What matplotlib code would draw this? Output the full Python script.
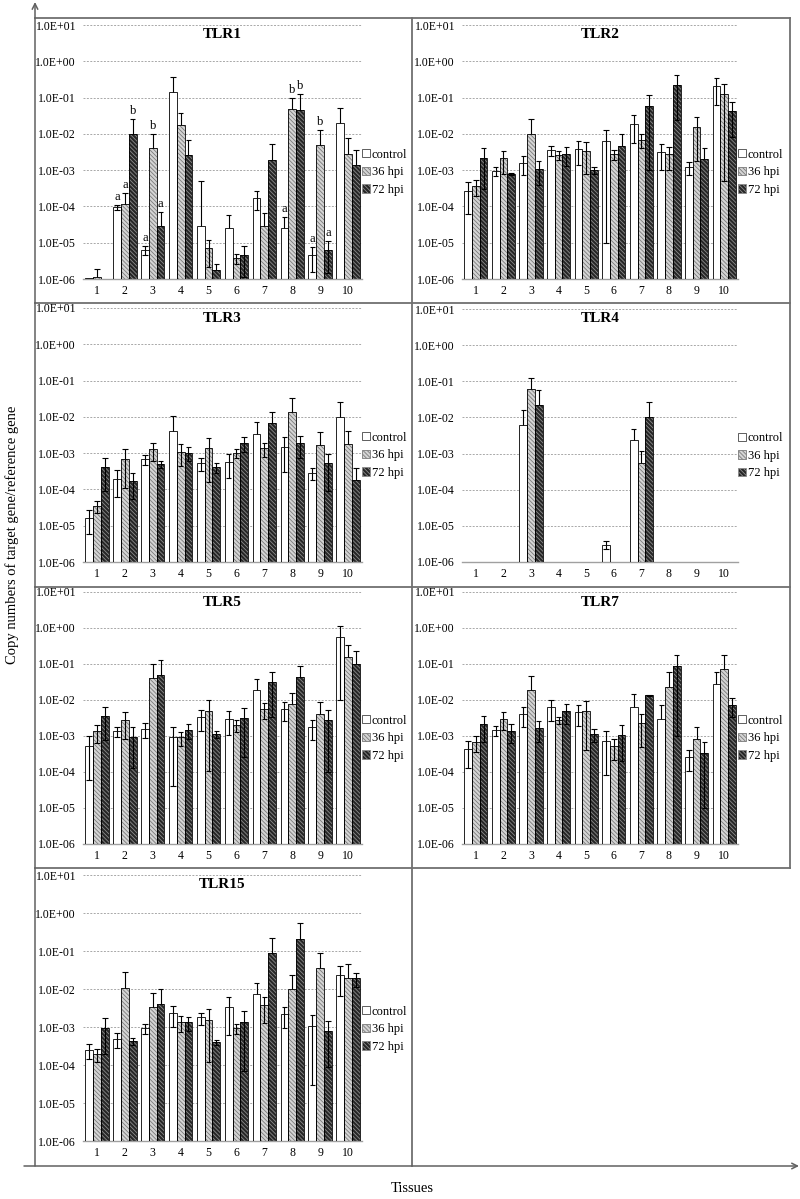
import numpy as np
import matplotlib
matplotlib.use('Agg')
import matplotlib.pyplot as plt
from matplotlib.patches import Patch

plt.rcParams['font.family'] = ['Liberation Serif', 'DejaVu Serif']
plt.rcParams['hatch.linewidth'] = 0.6

# ---------------- data ----------------
tissues = [str(i) for i in range(1, 11)]
series_labels = ['control', '36 hpi', '72 hpi']
ytick_values = [1e-6, 1e-5, 1e-4, 1e-3, 1e-2, 1e-1, 1e0, 1e1]
ytick_labels = ['1.0E-06', '1.0E-05', '1.0E-04', '1.0E-03', '1.0E-02',
                '1.0E-01', '1.0E+00', '1.0E+01']

tlr1_ctrl = [1.05e-6, 9.6e-5, 6.2e-6, 0.143, 2.8e-5, 2.5e-5, 1.7e-4, 2.5e-5, 4.6e-6, 0.0197]
tlr1_ctrl_sd = [0, 1.4e-5, 1.7e-6, 0.237, 4.6e-4, 3.4e-5, 9e-5, 2.6e-5, 3e-6, 0.031]
tlr1_36 = [1.1e-6, 1.15e-4, 4.0e-3, 0.0177, 7.1e-6, 3.8e-6, 2.8e-5, 0.048, 4.8e-3, 2.8e-3]
tlr1_36_sd = [0.8e-6, 1.15e-4, 5.8e-3, 0.019, 4.9e-6, 1.2e-6, 3.8e-5, 0.048, 8.1e-3, 4.8e-3]
tlr1_72 = [0, 9.8e-3, 2.8e-5, 2.6e-3, 1.8e-6, 4.7e-6, 1.9e-3, 0.046, 6.2e-6, 1.4e-3]
tlr1_72_sd = [0, 0.0162, 4.2e-5, 4.2e-3, 0.8e-6, 3.6e-6, 3.4e-3, 0.078, 4.7e-6, 2.1e-3]
tlr1_letters = [(2, 0, 'a'), (2, 1, 'a'), (2, 2, 'b'), (3, 0, 'a'), (3, 1, 'b'), (3, 2, 'a'),
                (8, 0, 'a'), (8, 1, 'b'), (8, 2, 'b'), (9, 0, 'a'), (9, 1, 'b'), (9, 2, 'a')]

tlr2_ctrl = [2.65e-4, 9.5e-4, 1.57e-3, 3.5e-3, 3.9e-3, 6.3e-3, 0.0192, 3.2e-3, 1.22e-3, 0.207]
tlr2_ctrl_sd = [2.05e-4, 2.7e-4, 8.3e-4, 1.0e-3, 2.5e-3, 6.29e-3, 0.0135, 2.2e-3, 4.8e-4, 0.143]
tlr2_36 = [3.6e-4, 2.1e-3, 0.0102, 2.6e-3, 3.4e-3, 2.7e-3, 6.9e-3, 2.7e-3, 0.0156, 0.122]
tlr2_36_sd = [1.6e-4, 1.3e-3, 0.0151, 0.7e-3, 2.6e-3, 0.8e-3, 2.9e-3, 1.7e-3, 0.0138, 0.1215]
tlr2_72 = [2.2e-3, 8e-4, 1.1e-3, 2.85e-3, 9.9e-4, 4.6e-3, 0.058, 0.22, 2.05e-3, 0.042]
tlr2_72_sd = [1.9e-3, 0.5e-4, 0.7e-3, 1.55e-3, 2.1e-4, 5.6e-3, 0.057, 0.196, 2.05e-3, 0.034]

tlr3_ctrl = [1.65e-5, 2.0e-4, 6.7e-4, 4.2e-3, 5.2e-4, 5.8e-4, 3.4e-3, 1.5e-3, 2.8e-4, 9.75e-3]
tlr3_ctrl_sd = [1.05e-5, 1.4e-4, 2.1e-4, 6.6e-3, 2.0e-4, 3.7e-4, 3.7e-3, 1.2e-3, 1.0e-4, 0.0167]
tlr3_36 = [3.5e-5, 6.9e-4, 1.27e-3, 1.1e-3, 1.36e-3, 1.0e-3, 1.36e-3, 0.014, 1.68e-3, 1.75e-3]
tlr3_36_sd = [1.3e-5, 5.8e-4, 6.8e-4, 6.5e-4, 1.2e-3, 2.7e-4, 5.9e-4, 0.0187, 2.2e-3, 2.45e-3]
tlr3_72 = [4.05e-4, 1.73e-4, 5e-4, 1.03e-3, 4.05e-4, 1.95e-3, 6.65e-3, 1.87e-3, 5.2e-4, 1.8e-4]
tlr3_72_sd = [3.15e-4, 1.17e-4, 1.2e-4, 4.2e-4, 1.15e-4, 9e-4, 6.75e-3, 1.13e-3, 4.3e-4, 2.2e-4]

tlr4_ctrl = [0, 0, 6e-3, 0, 0, 3.0e-6, 2.3e-3, 0, 0, 0]
tlr4_ctrl_sd = [0, 0, 9.6e-3, 0, 0, 0.7e-6, 2.4e-3, 0, 0, 0]
tlr4_36 = [0, 0, 0.06, 0, 0, 0, 5.5e-4, 0, 0, 0]
tlr4_36_sd = [0, 0, 0.062, 0, 0, 0, 6e-4, 0, 0, 0]
tlr4_72 = [0, 0, 0.0214, 0, 0, 0, 0.0102, 0, 0, 0]
tlr4_72_sd = [0, 0, 0.0366, 0, 0, 0, 0.0173, 0, 0, 0]

tlr5_ctrl = [5.2e-4, 1.35e-3, 1.6e-3, 9.2e-4, 3.3e-3, 2.97e-3, 0.0194, 5.7e-3, 1.74e-3, 0.56]
tlr5_ctrl_sd = [4.6e-4, 3.9e-4, 7e-4, 8.8e-4, 1.9e-3, 1.87e-3, 0.0196, 3.1e-3, 0.96e-3, 0.55]
tlr5_36 = [1.35e-3, 2.7e-3, 0.041, 9.2e-4, 5.06e-3, 1.98e-3, 5.6e-3, 7.7e-3, 4.1e-3, 0.153]
tlr5_36_sd = [7.2e-4, 1.9e-3, 0.059, 3.8e-4, 4.95e-3, 7.2e-4, 2.7e-3, 7.9e-3, 4.5e-3, 0.177]
tlr5_72 = [3.5e-3, 9.6e-4, 0.0506, 1.5e-3, 1.16e-3, 3.16e-3, 0.031, 0.0427, 2.7e-3, 0.102]
tlr5_72_sd = [2.75e-3, 8.3e-4, 0.081, 6.5e-4, 2.6e-4, 2.9e-3, 0.0277, 0.0433, 2.6e-3, 0.123]

tlr7_ctrl = [4.35e-4, 1.44e-3, 4.1e-3, 6.4e-3, 4.65e-3, 7.1e-4, 6.4e-3, 3.03e-3, 2.55e-4, 0.0278]
tlr7_ctrl_sd = [3.05e-4, 4.2e-4, 2.3e-3, 3.8e-3, 2.75e-3, 6.3e-4, 8.3e-3, 4.07e-3, 1.45e-4, 0.031]
tlr7_36 = [6.7e-4, 2.97e-3, 0.0194, 2.72e-3, 5e-3, 5.2e-4, 2.3e-3, 0.023, 8.3e-4, 0.0726]
tlr7_36_sd = [3.1e-4, 1.53e-3, 0.028, 5.8e-4, 4.6e-3, 3.1e-4, 1.8e-3, 0.0357, 9.1e-4, 0.107]
tlr7_72 = [2.15e-3, 1.4e-3, 1.67e-3, 5.06e-3, 1.14e-3, 1.09e-3, 0.0135, 0.09, 3.4e-4, 7.4e-3]
tlr7_72_sd = [1.45e-3, 7.5e-4, 1.0e-3, 2.84e-3, 4.6e-4, 8.9e-4, 5e-4, 0.089, 3.3e-4, 4e-3]

tlr15_ctrl = [2.54e-4, 4.83e-4, 9.2e-4, 2.3e-3, 1.78e-3, 3.46e-3, 7.3e-3, 2.18e-3, 1.08e-3, 0.0233]
tlr15_ctrl_sd = [1.06e-4, 2.07e-4, 2.7e-4, 1.3e-3, 6.2e-4, 2.84e-3, 7.4e-3, 1.22e-3, 1.05e-3, 0.0167]
tlr15_36 = [1.92e-4, 0.0109, 3.46e-3, 1.32e-3, 1.52e-3, 9.4e-4, 3.8e-3, 9.8e-3, 0.0362, 0.0198]
tlr15_36_sd = [7.3e-5, 0.017, 4.54e-3, 5.7e-4, 1.4e-3, 2.9e-4, 2.5e-3, 0.0135, 0.053, 0.0245]
tlr15_72 = [9.4e-4, 4.2e-4, 4.14e-3, 1.32e-3, 3.95e-4, 1.37e-3, 0.089, 0.212, 7.7e-4, 0.019]
tlr15_72_sd = [7.4e-4, 0.9e-4, 6.06e-3, 5.3e-4, 0.65e-4, 1.3e-3, 0.131, 0.333, 6.8e-4, 7.8e-3]

# ---------------- layout (pixels) ----------------
W, H = 800, 1199
fig = plt.figure(figsize=(W / 100, H / 100), dpi=100)

def px_axes(x0, x1, ytop, ybot):
    return fig.add_axes([x0 / W, 1 - ybot / H, (x1 - x0) / W, (ybot - ytop) / H])

BASE = 1e-6
bar_w = 0.28
faces = ['white', '#d4d4d4', '#262626']
hatch_cols = [None, '#7a7a7a', '#8c8c8c']
HATCH = '\\\\\\\\\\\\\\\\'


def draw_panel(ax, title, means, sds, letters=None):
    x = np.arange(1, 11)
    ax.set_yscale('log')
    for k in range(3):
        xs = x + (k - 1) * bar_w
        m = np.array(means[k], dtype=float)
        s = np.array(sds[k], dtype=float)
        mask = m > BASE
        h = m[mask] - BASE
        ax.bar(xs[mask], h, bottom=BASE, width=bar_w, color=faces[k],
               edgecolor='none', linewidth=0, zorder=2)
        if hatch_cols[k] is not None:
            ax.bar(xs[mask], h, bottom=BASE, width=bar_w, facecolor='none',
                   edgecolor=hatch_cols[k], hatch=HATCH, linewidth=0, zorder=3)
        ax.bar(xs[mask], h, bottom=BASE, width=bar_w, facecolor='none',
               edgecolor='black', linewidth=0.6, zorder=4)
        em = mask & (s > 0)
        cw = 0.1
        up = m[em] + s[em]
        ax.vlines(xs[em], m[em], up, color='black', lw=0.8, zorder=5)
        ax.hlines(up, xs[em] - cw, xs[em] + cw, color='black', lw=0.8, zorder=5)
        lm = em & (m - s > BASE)
        lo = m[lm] - s[lm]
        ax.vlines(xs[lm], lo, m[lm], color='black', lw=0.8, zorder=5)
        ax.hlines(lo, xs[lm] - cw, xs[lm] + cw, color='black', lw=0.8, zorder=5)
    if letters:
        for t, k, letter in letters:
            i = t - 1
            xv = x[i] + (k - 1) * bar_w
            top = means[k][i] + sds[k][i]
            ax.annotate(letter, (xv, top), xytext=(0, 1.5), textcoords='offset points',
                        ha='center', va='bottom', fontsize=9, zorder=6)
    ax.set_xlim(0.5, 10.5)
    ax.set_ylim(1e-6, 1e1)
    ax.set_xticks(x)
    ax.set_xticklabels(tissues)
    ax.set_yticks(ytick_values)
    ax.set_yticklabels(ytick_labels)
    ax.yaxis.set_minor_locator(matplotlib.ticker.NullLocator())
    ax.tick_params(axis='both', length=0, labelsize=8.5)
    ax.tick_params(axis='x', pad=4)
    ax.tick_params(axis='y', pad=5)
    for sp in ['top', 'right', 'left']:
        ax.spines[sp].set_visible(False)
    ax.spines['bottom'].set_color('#a0a0a0')
    ax.spines['bottom'].set_linewidth(1.0)
    for v in ytick_values[1:]:
        ax.axhline(v, color='#a8a8a8', lw=0.7, ls=(0, (2, 1.5)), zorder=1)
    ax.patch.set_alpha(0)
    hh = ax.get_position().height * H
    ax.text(0.5, 1 - 10 / hh, title, transform=ax.transAxes, ha='center', va='center',
            fontsize=11, fontweight='bold', zorder=6)
    handles = [Patch(facecolor=faces[0], edgecolor='#444444', linewidth=0.6),
               Patch(facecolor=faces[1], edgecolor=hatch_cols[1], hatch=HATCH, linewidth=0.6),
               Patch(facecolor=faces[2], edgecolor=hatch_cols[2], hatch=HATCH, linewidth=0.6)]
    ax.legend(handles, series_labels, loc='center left', bbox_to_anchor=(1.0, 0.42),
              frameon=False, fontsize=9, handlelength=0.65, handleheight=0.65,
              handletextpad=0.15, labelspacing=0.45, borderaxespad=0, borderpad=0)


panels = [
    ('TLR1', (83, 362, 25, 279), [tlr1_ctrl, tlr1_36, tlr1_72], [tlr1_ctrl_sd, tlr1_36_sd, tlr1_72_sd], tlr1_letters),
    ('TLR2', (462, 738, 25, 279), [tlr2_ctrl, tlr2_36, tlr2_72], [tlr2_ctrl_sd, tlr2_36_sd, tlr2_72_sd], None),
    ('TLR3', (83, 362, 308, 562), [tlr3_ctrl, tlr3_36, tlr3_72], [tlr3_ctrl_sd, tlr3_36_sd, tlr3_72_sd], None),
    ('TLR4', (462, 738, 309, 562), [tlr4_ctrl, tlr4_36, tlr4_72], [tlr4_ctrl_sd, tlr4_36_sd, tlr4_72_sd], None),
    ('TLR5', (83, 362, 592, 844), [tlr5_ctrl, tlr5_36, tlr5_72], [tlr5_ctrl_sd, tlr5_36_sd, tlr5_72_sd], None),
    ('TLR7', (462, 738, 592, 844), [tlr7_ctrl, tlr7_36, tlr7_72], [tlr7_ctrl_sd, tlr7_36_sd, tlr7_72_sd], None),
    ('TLR15', (83, 362, 875, 1141), [tlr15_ctrl, tlr15_36, tlr15_72], [tlr15_ctrl_sd, tlr15_36_sd, tlr15_72_sd], None),
]

for title, box, means, sds, letters in panels:
    ax = px_axes(*box)
    draw_panel(ax, title, means, sds, letters)

# ---------------- frame / arrows ----------------
ov = fig.add_axes([0, 0, 1, 1], zorder=-1)
ov.set_xlim(0, W)
ov.set_ylim(H, 0)
ov.axis('off')
fc = '#707070'
flw = 1.3
ov.plot([35, 790], [18, 18], color=fc, lw=flw)
ov.plot([790, 790], [18, 868], color=fc, lw=flw)
for yy in (303, 587, 868):
    ov.plot([35, 790], [yy, yy], color=fc, lw=flw)
ov.plot([412, 412], [18, 1166], color=fc, lw=flw)
ov.annotate('', xy=(35, 2), xytext=(35, 1166),
            arrowprops=dict(arrowstyle='->', color='#606060', lw=1.1, shrinkA=0, shrinkB=0))
ov.annotate('', xy=(799, 1166), xytext=(24, 1166),
            arrowprops=dict(arrowstyle='->', color='#606060', lw=1.1, shrinkA=0, shrinkB=0))

fig.text(12 / W, 1 - 535 / H, 'Copy numbers of target gene/reference gene', rotation=90,
         ha='center', va='center', fontsize=10.5)
fig.text(412 / W, 1 - 1189 / H, 'Tissues', ha='center', va='center', fontsize=10.5)

fig.savefig('out.png', dpi=100)
